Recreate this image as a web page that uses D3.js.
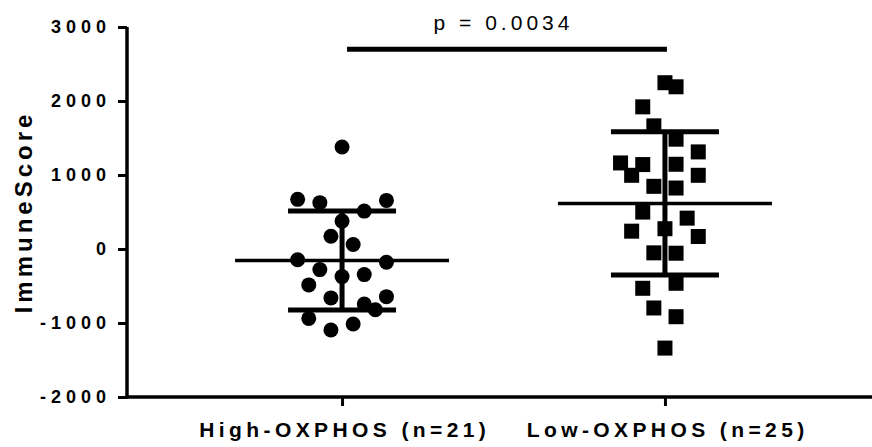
<!DOCTYPE html>
<html>
<head>
<meta charset="utf-8">
<script src="https://cdn.jsdelivr.net/npm/d3@7"></script>
<style>
  body { margin: 0; background: #fff; }
  text { font-family: Arial, "Liberation Sans", sans-serif; fill: #000; }
</style>
</head>
<body>
<svg id="chart" width="872" height="447"></svg>
<script>
var groups = ["High-OXPHOS (n=21)", "Low-OXPHOS (n=25)"]

var highValues = [1379, 671, 626, 657, 512, 377, 173, 61, -146, -179, -278, -373, -346, -485, -661, -644, -743, -820, -938, -1095, -1014]
var highSlots  = [0, -4, -2, 4, 2, 0, -1, 1, -4, 4, -2, 0, 2, -3, -1, 4, 2, 3, -3, -1, 1]
var lowValues  = [2247, 2192, 1921, 1664, 1484, 1312, 1163, 1141, 1145, 996, 996, 847, 824, 499, 417, 241, 274, 169, -52, -57, -463, -531, -797, -915, -1339]
var lowSlots   = [0, 1, -2, -1, 1, 3, -4, -2, 1, -3, 3, -1, 1, -2, 2, -3, 0, 3, -1, 1, 1, -2, -1, 1, 0]

var yTicks = [-2000, -1000, 0, 1000, 2000, 3000]
var pLabel = "p = 0.0034"
var pLevel = 2700

var svg = d3.select("#chart")

var y = d3.scaleLinear().domain([-2000, 3000]).range([397, 27])
var x = d3.scalePoint().domain(groups).range([127, 880]).padding(0.666)
var slot = d3.scaleLinear().domain([-4, 4]).range([-44.4, 44.4])

var series = [
  {name: groups[0], values: highValues, slots: highSlots, shape: "circle"},
  {name: groups[1], values: lowValues, slots: lowSlots, shape: "square"}
]

// axes
var yAxis = svg.append("g").attr("transform", "translate(127,0)")
  .call(d3.axisLeft(y).tickValues(yTicks).tickSize(9).tickPadding(7).tickFormat(function(d) { return String(d) }))
yAxis.select(".domain").attr("stroke-width", 3.5).attr("d", "M0," + y(3000) + "V" + (y(-2000) + 1.5))
yAxis.selectAll(".tick line").attr("stroke-width", 3)
yAxis.selectAll(".tick text")
  .attr("font-size", 18).attr("font-weight", "bold").attr("letter-spacing", 5)

var xAxis = svg.append("g").attr("transform", "translate(0," + y(-2000) + ")")
  .call(d3.axisBottom(x).tickSize(9).tickPadding(14))
xAxis.select(".domain").attr("stroke-width", 3.5).attr("d", "M125.5,0H880")
xAxis.selectAll(".tick line").attr("stroke-width", 3)
xAxis.selectAll(".tick text")
  .attr("font-size", 21).attr("font-weight", "bold").attr("letter-spacing", 4.4)
  .attr("dx", 2.2).attr("dy", "0.8em")

svg.append("text")
  .attr("transform", "translate(32," + y(500) + ") rotate(-90)")
  .attr("text-anchor", "middle")
  .attr("font-size", 24).attr("font-weight", "bold").attr("letter-spacing", 4)
  .text("ImmuneScore")

// dots
series.forEach(function(s) {
  var cx = x(s.name)
  var g = svg.append("g")
  if (s.shape == "circle") {
    g.selectAll("circle").data(s.values).enter().append("circle")
      .attr("cx", function(d, i) { return cx + slot(s.slots[i]) })
      .attr("cy", function(d) { return y(d) })
      .attr("r", 7.5)
      .attr("fill", "#000")
  } else {
    g.selectAll("rect").data(s.values).enter().append("rect")
      .attr("x", function(d, i) { return cx + slot(s.slots[i]) - 7.5 })
      .attr("y", function(d) { return y(d) - 7.5 })
      .attr("width", 15).attr("height", 15)
      .attr("fill", "#000")
  }

  // mean and SD bars
  var m = d3.mean(s.values), sd = d3.deviation(s.values)
  var eb = svg.append("g").attr("stroke", "#000")
  eb.append("line").attr("x1", cx - 107).attr("x2", cx + 107)
    .attr("y1", y(m)).attr("y2", y(m)).attr("stroke-width", 3.5)
  eb.append("line").attr("x1", cx).attr("x2", cx)
    .attr("y1", y(m + sd)).attr("y2", y(m - sd)).attr("stroke-width", 5)
  ;[m + sd, m - sd].forEach(function(v) {
    eb.append("line").attr("x1", cx - 54).attr("x2", cx + 54)
      .attr("y1", y(v)).attr("y2", y(v)).attr("stroke-width", 5)
  })
})

// significance bar
svg.append("line")
  .attr("x1", x(groups[0]) + 5).attr("x2", x(groups[1]) + 2)
  .attr("y1", y(pLevel)).attr("y2", y(pLevel))
  .attr("stroke", "#000").attr("stroke-width", 5)
svg.append("text")
  .attr("x", (x(groups[0]) + x(groups[1])) / 2).attr("y", y(pLevel) - 19)
  .attr("text-anchor", "middle")
  .attr("font-size", 21).attr("letter-spacing", 4)
  .text(pLabel)
</script>
</body>
</html>
